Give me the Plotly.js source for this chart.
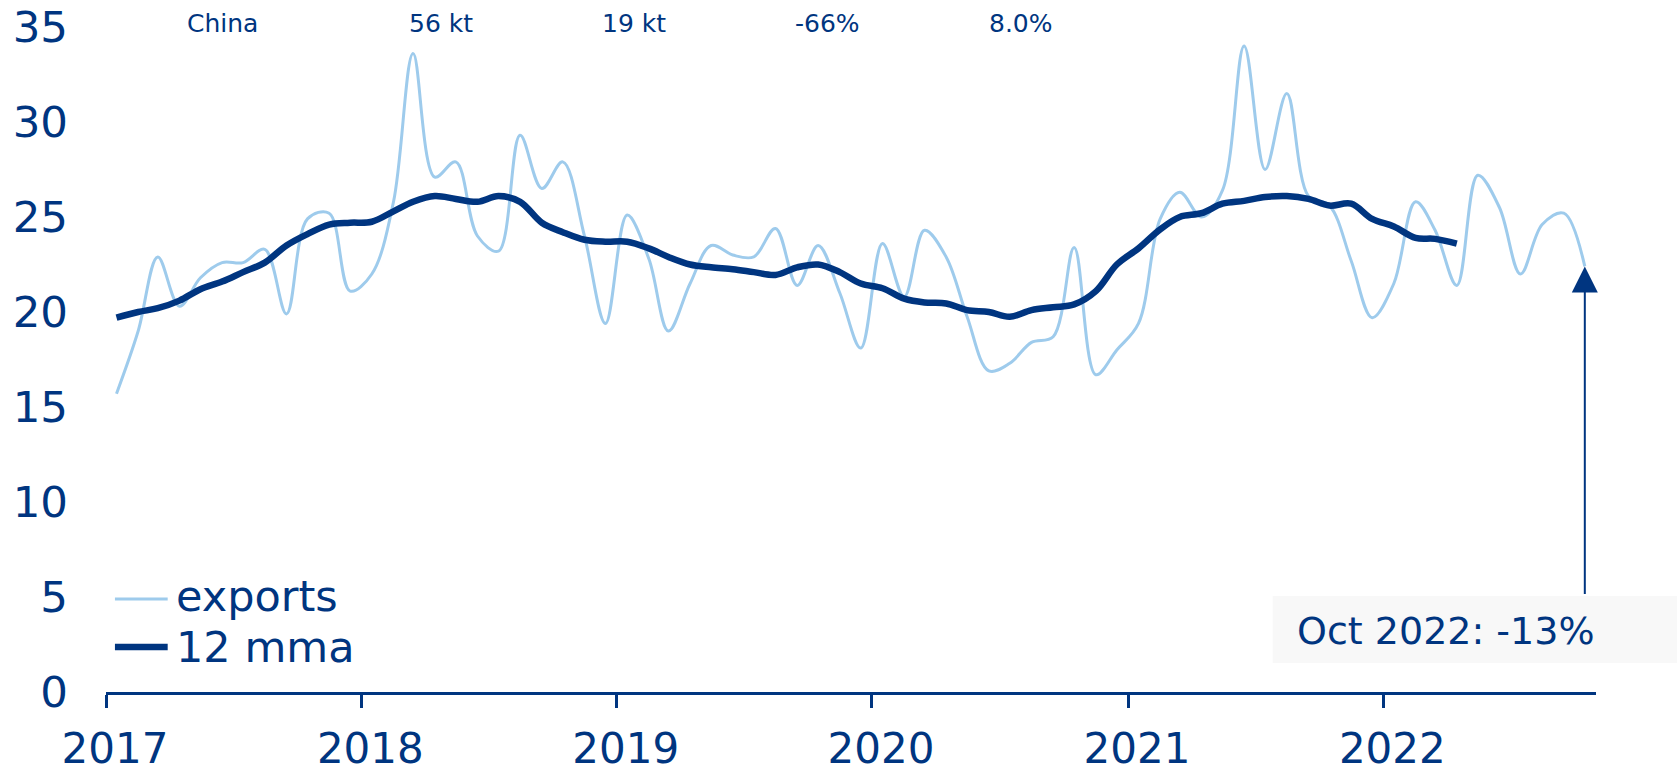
<!DOCTYPE html>
<html>
<head>
<meta charset="utf-8">
<script src="https://cdn.plot.ly/plotly-3.0.1.min.js"></script>
<style>
  html, body { margin: 0; padding: 0; background: #fff; }
  #myDiv { width: 1677px; height: 767px; }
</style>
</head>
<body>
<div id="myDiv"></div>
<script>
var navy = '#003580';
var lightBlue = '#9ecbec';

// monthly data, Jan 2017 onwards
var startYear = 2017;
var exportsVals = [
	15.7, 19.0, 22.9, 20.3, 21.8, 22.6, 22.6, 23.3, 19.9, 24.9, 25.2, 21.1,
	22.0, 25.8, 33.6, 27.1, 27.9, 24.0, 23.2, 29.3, 26.5, 27.9, 24.0, 19.4,
	25.1, 22.8, 19.0, 21.5, 23.5, 23.0, 22.9, 24.4, 21.4, 23.5, 21.0, 18.1,
	23.6, 20.8, 24.3, 22.9, 19.75, 16.9, 17.3, 18.4, 18.7, 23.4, 16.7, 18.0,
	19.4, 24.9, 26.3, 25.0, 26.4, 34.0, 27.5, 31.5, 26.1, 25.6, 22.7, 19.7,
	21.5, 25.8, 24.3, 21.4, 27.2, 25.5, 22.0, 24.6, 25.2, 22.4
];
var mmaVals = [
	19.7, 20.0, 20.2, 20.6, 21.2, 21.6, 22.1, 22.6, 23.5, 24.1, 24.6, 24.7,
	24.75, 25.3, 25.8, 26.1, 25.95, 25.8, 26.1, 25.8, 24.7, 24.2, 23.8, 23.7,
	23.7, 23.35, 22.9, 22.5, 22.35, 22.25, 22.1, 21.95, 22.35, 22.5, 22.1, 21.5,
	21.25, 20.7, 20.5, 20.45, 20.1, 20.0, 19.75, 20.1, 20.25, 20.4, 21.1, 22.5,
	23.35, 24.35, 25.0, 25.2, 25.7, 25.85, 26.05, 26.1, 25.95, 25.6, 25.7, 24.9,
	24.5, 23.9, 23.85, 23.6
];
var topLabels = ['China', '56 kt', '19 kt', '-66%', '8.0%'];
var topLabelX = [0.0779, 0.2248, 0.3544, 0.4839, 0.6141];
var noteText = 'Oct 2022: -13%';

function monthDate(i) {
	var y = startYear + Math.floor(i / 12);
	var m = (i % 12) + 1;
	return y + '-' + (m < 10 ? '0' + m : m) + '-16';
}
var dates = exportsVals.map(function (v, i) { return monthDate(i); });

var exportsLine = {
	x: dates,
	y: exportsVals,
	name: 'exports',
	type: 'scatter',
	mode: 'lines',
	line: { color: lightBlue, width: 3, shape: 'spline', smoothing: 1 }
};

var mmaLine = {
	x: dates.slice(0, mmaVals.length),
	y: mmaVals,
	name: '12 mma',
	type: 'scatter',
	mode: 'lines',
	line: { color: navy, width: 6.5, shape: 'spline', smoothing: 1 }
};

var traces = [exportsLine, mmaLine];

var annotations = topLabels.map(function (t, i) {
	return {
		text: t, xref: 'paper', yref: 'paper', x: topLabelX[i], y: 1.006,
		xanchor: 'center', yanchor: 'middle', showarrow: false,
		font: { size: 25, color: navy }
	};
});
annotations.push({
	text: noteText, xref: 'paper', yref: 'paper', x: 0.8993, y: 0.0917,
	xanchor: 'center', yanchor: 'middle', showarrow: false,
	font: { size: 38, color: navy }
});
annotations.push({
	text: '', x: dates[dates.length - 1], y: exportsVals[exportsVals.length - 1],
	xref: 'x', yref: 'y', showarrow: true, ax: 0, ay: 329,
	arrowhead: 2, arrowsize: 2.6, arrowwidth: 2, arrowcolor: navy
});

// legend drawn by hand so the sample lines and spacing match
var legendTextY = [0.1444, 0.0677];
var legendLineY = [0.1398, 0.0677];
var shapes = [{
	type: 'rect', xref: 'paper', yref: 'paper',
	x0: 0.783, x1: 1.06, y0: 0.0436, y1: 0.1444,
	fillcolor: '#f8f8f8', line: { width: 0 }, layer: 'below'
}];
traces.forEach(function (tr, i) {
	shapes.push({
		type: 'line', xref: 'paper', yref: 'paper',
		x0: 0.006, x1: 0.0414, y0: legendLineY[i], y1: legendLineY[i],
		line: { color: tr.line.color, width: tr.line.width }
	});
	annotations.push({
		text: tr.name, xref: 'paper', yref: 'paper', x: 0.0455, y: legendTextY[i],
		xanchor: 'left', yanchor: 'middle', showarrow: false,
		font: { size: 43, color: navy }
	});
});

var layout = {
	width: 1677,
	height: 767,
	margin: { l: 106, r: 81, t: 27, b: 75 },
	font: { family: 'DejaVu Sans', color: navy },
	showlegend: false,
	xaxis: {
		type: 'date',
		range: ['2017-01-01', '2022-11-01'],
		dtick: 'M12',
		tick0: '2017-01-01',
		tickformat: '%Y',
		showgrid: false,
		zeroline: false,
		showline: true,
		linecolor: navy,
		linewidth: 3,
		ticks: 'outside',
		ticklen: 13,
		tickwidth: 3,
		tickcolor: navy,
		ticklabelshift: 9,
		ticklabelstandoff: 5,
		tickfont: { size: 42, color: navy }
	},
	yaxis: {
		range: [0, 35],
		dtick: 5,
		showgrid: false,
		zeroline: false,
		showline: false,
		ticks: '',
		ticklabelstandoff: 37,
		tickfont: { size: 43.5, color: navy }
	},
	shapes: shapes,
	annotations: annotations,
	plot_bgcolor: 'rgba(0,0,0,0)',
	paper_bgcolor: '#ffffff'
};

Plotly.newPlot('myDiv', traces, layout, { staticPlot: true });
</script>
</body>
</html>
